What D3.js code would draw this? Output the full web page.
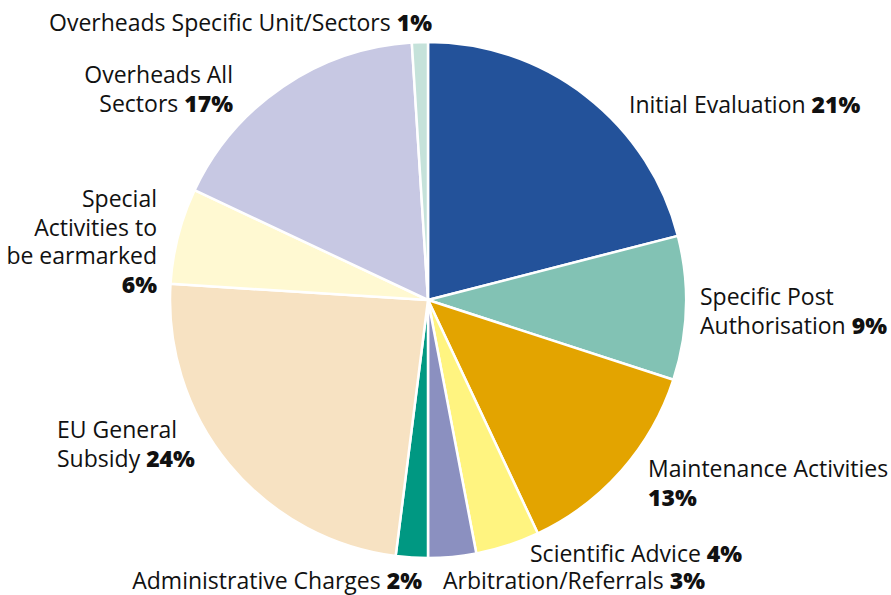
<!DOCTYPE html>
<html><head><meta charset="utf-8">
<script src="https://cdn.jsdelivr.net/npm/d3@7"></script>
<style>body{margin:0;background:#fff}svg{display:block}text{font-family:"Open Sans",Lato,sans-serif;fill:#111}</style>
</head><body>
<svg id="c" width="891" height="595"></svg>
<script>
const categories = ["Initial Evaluation","Specific Post Authorisation","Maintenance Activities","Scientific Advice","Arbitration/Referrals","Administrative Charges","EU General Subsidy","Special Activities to be earmarked","Overheads All Sectors","Overheads Specific Unit/Sectors"];
const values = [21,9,13,4,3,2,24,6,17,1];
const colors = ["#23529a","#82c2b4","#e3a400","#fff480","#8b90c0","#009882","#f7e2c2","#fff9d2","#c7c8e3","#c5e2da"];
// label lines: each line is [normal text, bold text]
const labelLines = [
  [["Initial Evaluation ","21%"]],
  [["Specific Post",""],["Authorisation ","9%"]],
  [["Maintenance Activities",""],["","13%"]],
  [["Scientific Advice ","4%"]],
  [["Arbitration/Referrals ","3%"]],
  [["Administrative Charges ","2%"]],
  [["EU General",""],["Subsidy ","24%"]],
  [["Special",""],["Activities to",""],["be earmarked",""],["","6%"]],
  [["Overheads All",""],["Sectors ","17%"]],
  [["Overheads Specific Unit/Sectors ","1%"]]
];
const labelPos = [
  {x:629,y:113,a:"start"},
  {x:700,y:305,a:"start"},
  {x:648,y:477,a:"start"},
  {x:530,y:562,a:"start"},
  {x:443,y:589,a:"start"},
  {x:422,y:589,a:"end"},
  {x:57,y:438,a:"start"},
  {x:157,y:207,a:"end"},
  {x:233,y:83,a:"end"},
  {x:432,y:31,a:"end"}
];
const svg = d3.select("#c");
const cx=428, cy=300, r=258;
const pie = d3.pie().sort(null).value(d=>d);
const arc = d3.arc().innerRadius(0).outerRadius(r);
const g = svg.append("g").attr("transform",`translate(${cx},${cy})`);
g.selectAll("path").data(pie(values)).join("path")
  .attr("d",arc).attr("fill",(d,i)=>colors[i])
  .attr("stroke","#fff").attr("stroke-width",2.5).attr("stroke-linejoin","round");
const fs=23, lh=28.5;
labelLines.forEach((lines,i)=>{
  const p=labelPos[i];
  lines.forEach((ln,j)=>{
    const t=svg.append("text").attr("x",p.x).attr("y",p.y+j*lh)
      .attr("text-anchor",p.a).style("font-size",fs+"px");
    if(ln[0]) t.append("tspan").text(ln[0]);
    if(ln[1]) t.append("tspan").attr("font-weight","800").text(ln[1]);
  });
});
</script>
</body></html>
